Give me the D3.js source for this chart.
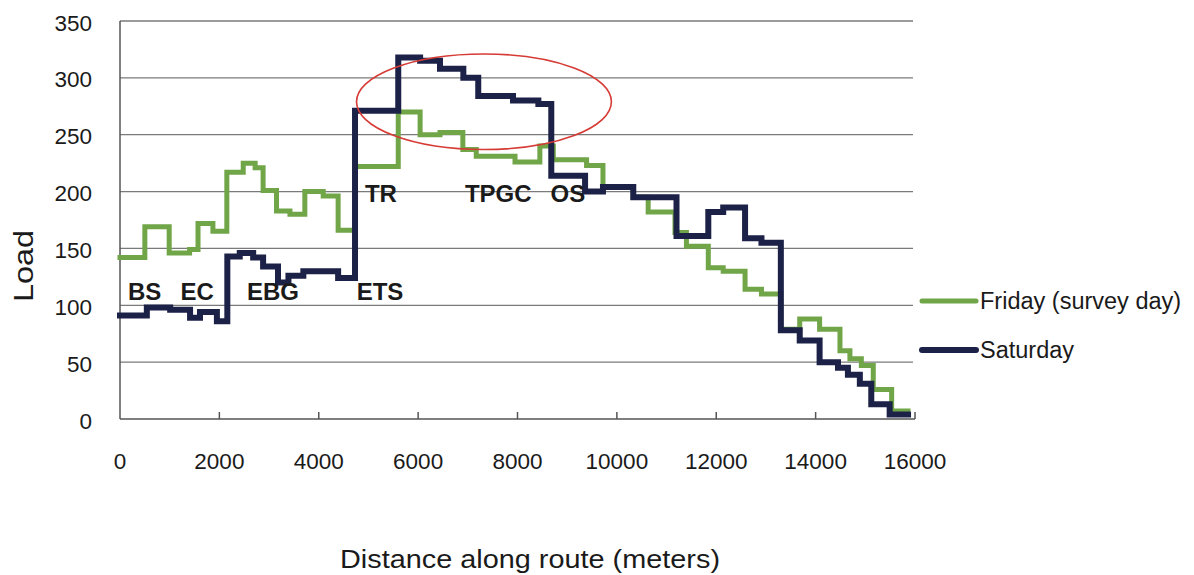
<!DOCTYPE html>
<html>
<head>
<meta charset="utf-8">
<script src="https://cdn.jsdelivr.net/npm/d3@7"></script>
<style>
  html, body { margin: 0; padding: 0; background: #fff; }
  svg { display: block; }
</style>
</head>
<body>
<svg id="chart" width="1194" height="575"></svg>
<script>
// ---------- data ----------
const yTicks = [0, 50, 100, 150, 200, 250, 300, 350];
const xTicks = [0, 2000, 4000, 6000, 8000, 10000, 12000, 14000, 16000];

// Friday (survey day): step start distance (m) and load
const fridayDist = [0, 500, 990, 1400, 1570, 1870, 2150, 2480, 2720, 2880, 3150, 3420, 3720, 4090, 4390, 4730,
  5600, 6040, 6440, 6900, 7170, 7950, 8450, 8720, 9390, 9720, 10330, 10630, 11170, 11400, 11840, 12140,
  12580, 12910, 13300, 13680, 14080, 14490, 14690, 14920, 15160, 15530, 15860];
const fridayLoad = [142, 169, 146, 149, 172, 165, 217, 225, 221, 201, 183, 180, 200, 196, 166, 222,
  270, 250, 252, 237, 231, 226, 240, 228, 223, 204, 195, 182, 164, 152, 133, 130,
  114, 110, 79, 88, 79, 60, 53, 47, 26, 7, 7];

// Saturday
const saturdayDist = [0, 540, 1010, 1410, 1610, 1950, 2160, 2410, 2680, 2880, 3180, 3390, 3690, 4390, 4730,
  5600, 6040, 6440, 6910, 7210, 7910, 8420, 8680, 9360, 9720, 10330, 11200, 11840, 12140, 12580, 12910,
  13300, 13680, 14080, 14450, 14650, 14890, 15120, 15490, 15860];
const saturdayLoad = [91, 98, 96, 89, 94, 86, 143, 146, 142, 134, 120, 126, 130, 124, 271,
  318, 315, 308, 300, 284, 280, 277, 214, 200, 204, 195, 161, 182, 186, 159, 155,
  78, 69, 50, 45, 39, 31, 13, 4, 4];

const seriesNames = ["Friday (survey day)", "Saturday"];

// stop annotations: label, distance, load (text anchor position)
const stopLabels = ["BS", "EC", "EBG", "ETS", "TR", "TPGC", "OS"];
const stopX = [160, 1220, 2555, 4763, 4930, 6942, 8666];
const stopY = [105, 105, 105, 105, 191, 191, 191];

// highlighted region (ellipse) in data units
const ellipseCenter = [7325, 279];
const ellipseRadius = [2565, 42];

// ---------- layout ----------
const svg = d3.select("#chart");
const x = d3.scaleLinear().domain([0, 16000]).range([120, 915]);
const y = d3.scaleLinear().domain([0, 350]).range([419, 21]);

const green = "#70a548";
const navy = "#1c2247";
const textColor = "#1a1a1a";
const tickFont = "'Liberation Sans', Arial, sans-serif";

// gridlines
svg.append("g").selectAll("line").data(yTicks.filter(d => d > 0)).join("line")
  .attr("x1", x(0)).attr("x2", 913)
  .attr("y1", d => y(d)).attr("y2", d => y(d))
  .attr("stroke", "#7a7a7a").attr("stroke-width", 1.3);

// axes
svg.append("line").attr("x1", x(0)).attr("x2", x(0)).attr("y1", y(350)).attr("y2", y(0))
  .attr("stroke", "#555").attr("stroke-width", 1.5);
svg.append("line").attr("x1", x(0)).attr("x2", x(16000)).attr("y1", y(0)).attr("y2", y(0))
  .attr("stroke", "#555").attr("stroke-width", 1.5);
svg.append("g").selectAll("line").data(xTicks.filter(d => d > 0)).join("line")
  .attr("x1", d => x(d)).attr("x2", d => x(d))
  .attr("y1", y(0)).attr("y2", y(0) - 7)
  .attr("stroke", "#555").attr("stroke-width", 1.5);

// tick labels
svg.append("g").selectAll("text").data(yTicks).join("text")
  .attr("x", 92).attr("y", d => y(d) + 9.5)
  .attr("text-anchor", "end")
  .attr("font-family", tickFont).attr("font-size", 22.5).attr("fill", textColor)
  .text(d => d);
svg.append("g").selectAll("text").data(xTicks).join("text")
  .attr("x", d => x(d)).attr("y", 469)
  .attr("text-anchor", "middle")
  .attr("font-family", tickFont).attr("font-size", 22.5).attr("fill", textColor)
  .text(d => d);

// axis titles
svg.append("text").attr("x", 530).attr("y", 568).attr("text-anchor", "middle")
  .attr("font-family", tickFont).attr("font-size", 26).attr("fill", textColor)
  .attr("textLength", 380).attr("lengthAdjust", "spacingAndGlyphs")
  .text("Distance along route (meters)");
svg.append("text").attr("transform", "translate(33,266) rotate(-90)").attr("text-anchor", "middle")
  .attr("font-family", tickFont).attr("font-size", 27).attr("fill", textColor)
  .attr("textLength", 72).attr("lengthAdjust", "spacingAndGlyphs")
  .text("Load");

// step lines
function stepData(dist, load) {
  return dist.map((d, i) => [d, load[i]]);
}
const line = d3.line().x(d => x(d[0])).y(d => y(d[1])).curve(d3.curveStepAfter);

svg.append("path").datum(stepData(fridayDist, fridayLoad))
  .attr("d", line).attr("fill", "none").attr("stroke", green)
  .attr("stroke-width", 5).attr("stroke-linejoin", "miter").attr("stroke-linecap", "square");
svg.append("path").datum(stepData(saturdayDist, saturdayLoad))
  .attr("d", line).attr("fill", "none").attr("stroke", navy)
  .attr("stroke-width", 6).attr("stroke-linejoin", "miter").attr("stroke-linecap", "square");

// stop annotations
svg.append("g").selectAll("text").data(stopLabels).join("text")
  .attr("x", (d, i) => x(stopX[i])).attr("y", (d, i) => y(stopY[i]))
  .attr("font-family", tickFont).attr("font-weight", "bold").attr("font-size", 24)
  .attr("fill", textColor)
  .text(d => d);

// ellipse highlight
svg.append("ellipse")
  .attr("cx", x(ellipseCenter[0])).attr("cy", y(ellipseCenter[1]))
  .attr("rx", x(ellipseRadius[0]) - x(0)).attr("ry", y(0) - y(ellipseRadius[1]))
  .attr("fill", "none").attr("stroke", "#d63b35").attr("stroke-width", 1.6);

// legend
const legendColors = [green, navy];
const legendY = [301, 350];
const lg = svg.append("g");
seriesNames.forEach((name, i) => {
  lg.append("line").attr("x1", 922).attr("x2", 976).attr("y1", legendY[i]).attr("y2", legendY[i])
    .attr("stroke", legendColors[i]).attr("stroke-width", i === 0 ? 5 : 6).attr("stroke-linecap", "round");
  lg.append("text").attr("x", 980).attr("y", legendY[i] + 8)
    .attr("font-family", tickFont).attr("font-size", 23.5).attr("fill", textColor)
    .text(name);
});
</script>
</body>
</html>
